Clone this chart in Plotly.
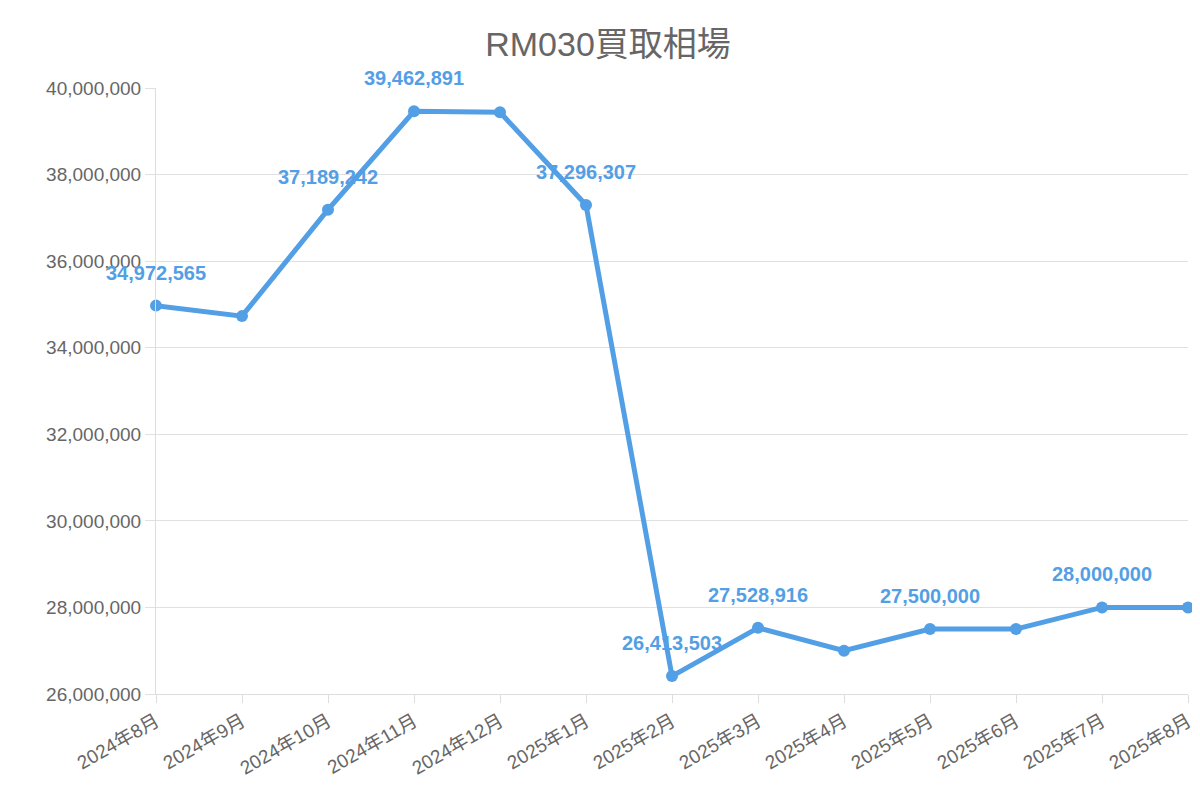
import plotly.graph_objects as go

months = ["2024年8月", "2024年9月", "2024年10月", "2024年11月", "2024年12月", "2025年1月",
          "2025年2月", "2025年3月", "2025年4月", "2025年5月", "2025年6月", "2025年7月", "2025年8月"]
prices = [34972565, 34730000, 37189242, 39462891, 39440000, 37296307,
          26413503, 27528916, 27000000, 27500000, 27500000, 28000000, 28000000]
# which points carry a visible value label
show_label = [1, 0, 1, 1, 0, 1, 1, 1, 0, 1, 0, 1, 0]

blue = "#539fe5"
fig = go.Figure()
fig.add_trace(go.Scatter(x=list(range(len(months))), y=prices, mode="lines+markers",
                         line=dict(color=blue, width=5), marker=dict(color=blue, size=12),
                         cliponaxis=False, hoverinfo="skip"))

for i, (v, s) in enumerate(zip(prices, show_label)):
    if s:
        fig.add_annotation(x=i, y=v, text=f"<b>{v:,}</b>", showarrow=False, yshift=33,
                           font=dict(size=20, color=blue))

fig.update_layout(
    width=1200, height=800, plot_bgcolor="white", paper_bgcolor="white",
    font=dict(family="Liberation Sans, Noto Sans CJK JP", color="#666"),
    title=dict(text="RM030買取相場", x=0.5, y=0.97, xanchor="center",
               font=dict(size=34, color="#666")),
    margin=dict(l=148, r=20, t=80, b=114),
    showlegend=False,
)
fig.update_xaxes(range=[0, 12], tickmode="array", tickvals=list(range(len(months))), ticktext=months,
                 tickangle=-30, tickfont=dict(size=19), showgrid=False, showline=True,
                 linecolor="#ddd", ticks="outside", tickcolor="#ddd", ticklen=8, automargin=False)
fig.update_yaxes(range=[26000000, 40000000], dtick=2000000, tickformat=",d",
                 tickfont=dict(size=19), gridcolor="#e0e0e0", showline=True, linecolor="#ddd",
                 ticks="outside", tickcolor="#e0e0e0", ticklen=10, zeroline=False, automargin=False)
fig.write_html("out.html")
